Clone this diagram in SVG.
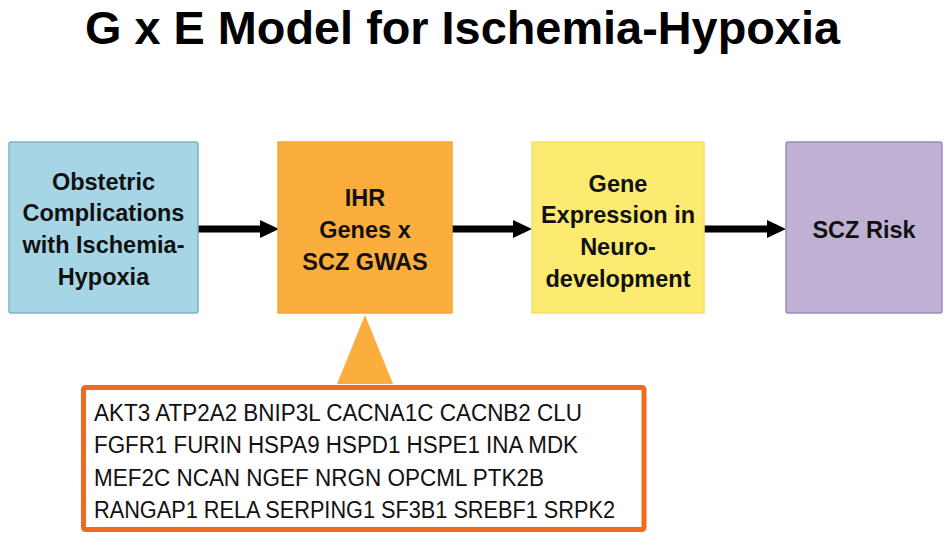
<svg xmlns="http://www.w3.org/2000/svg" width="951" height="545" viewBox="0 0 951 545">
<style>
.box{stroke-width:1.5}
.lbl{font-family:"Liberation Sans",Arial,sans-serif;font-weight:bold;font-size:23.5px;fill:#111;text-anchor:middle}
.gene{font-family:"Liberation Sans",Arial,sans-serif;font-size:23.5px;fill:#111}
.conn{stroke:#000;stroke-width:7;fill:none}
</style>
<rect width="951" height="545" fill="#fff"/>
<text x="462.5" y="44" font-family="'Liberation Sans',Arial,sans-serif" font-weight="bold" font-size="46" text-anchor="middle" textLength="755" lengthAdjust="spacingAndGlyphs" fill="#000">G x E Model for Ischemia-Hypoxia</text>
<g id="connectors">
<line class="conn" x1="198" y1="229" x2="260" y2="229"/>
<path d="M260,220 L279,229 L260,238 Z" fill="#000"/>
<line class="conn" x1="452" y1="229" x2="513" y2="229"/>
<path d="M513,220 L532,229 L513,238 Z" fill="#000"/>
<line class="conn" x1="704" y1="229" x2="767" y2="229"/>
<path d="M767,220 L786,229 L767,238 Z" fill="#000"/>
</g>
<g id="node-obstetric">
<rect class="box" x="9" y="142" width="189" height="171" rx="2" fill="#A6D6E6" stroke="#7FB2CC"/>
<text class="lbl" x="103.5" y="190">Obstetric</text>
<text class="lbl" x="103.5" y="221">Complications</text>
<text class="lbl" x="103.5" y="253">with Ischemia-</text>
<text class="lbl" x="103.5" y="285">Hypoxia</text>
</g>
<g id="node-ihr">
<rect class="box" x="278" y="142" width="174" height="171" fill="#FBAE3D" stroke="#F5A733"/>
<text class="lbl" x="365" y="206">IHR</text>
<text class="lbl" x="365" y="238">Genes x</text>
<text class="lbl" x="365" y="270">SCZ GWAS</text>
</g>
<g id="node-expression">
<rect class="box" x="532" y="142" width="172" height="171" fill="#FCEB70" stroke="#F2E066"/>
<text class="lbl" x="618" y="192">Gene</text>
<text class="lbl" x="618" y="223">Expression in</text>
<text class="lbl" x="618" y="255">Neuro-</text>
<text class="lbl" x="618" y="287">development</text>
</g>
<g id="node-risk">
<rect class="box" x="786" y="142" width="156" height="171" rx="2" fill="#BFB1D4" stroke="#958DBB"/>
<text class="lbl" x="864" y="238">SCZ Risk</text>
</g>
<g id="node-genes">
<path d="M365,315 L393,384 L337,384 Z" fill="#FBAE3D"/>
<rect x="83.5" y="387.5" width="560.5" height="142" rx="2" fill="#fff" stroke="#F26A1E" stroke-width="5"/>
<text class="gene" x="94" y="421" textLength="488" lengthAdjust="spacingAndGlyphs">AKT3 ATP2A2 BNIP3L CACNA1C CACNB2 CLU</text>
<text class="gene" x="94" y="453" textLength="484" lengthAdjust="spacingAndGlyphs">FGFR1 FURIN HSPA9 HSPD1 HSPE1 INA MDK</text>
<text class="gene" x="94" y="486" textLength="450" lengthAdjust="spacingAndGlyphs">MEF2C NCAN NGEF NRGN OPCML PTK2B</text>
<text class="gene" x="94" y="518" textLength="521" lengthAdjust="spacingAndGlyphs">RANGAP1 RELA SERPING1 SF3B1 SREBF1 SRPK2</text>
</g>
</svg>
